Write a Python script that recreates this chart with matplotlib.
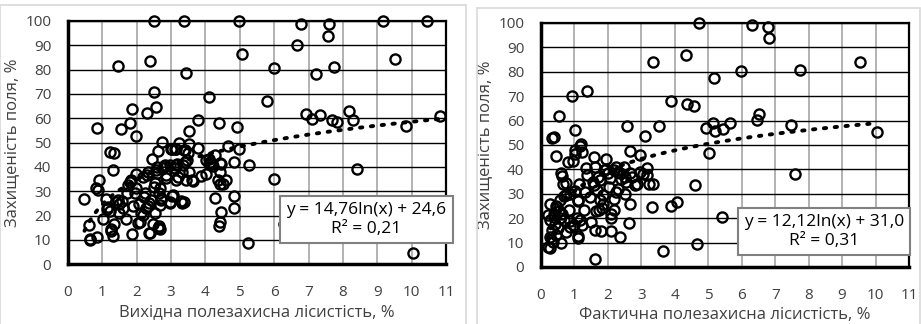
import numpy as np
import matplotlib
matplotlib.use("Agg")
import matplotlib.pyplot as plt
from matplotlib.patches import Rectangle

plt.rcParams['font.family'] = ['Open Sans', 'DejaVu Sans']

# ---------------- data: left chart (initial forest cover) ----------------
left_x = [2.49, 3.38, 4.97, 9.16, 10.44, 6.79, 7.59, 7.56, 6.66, 5.07, 9.53, 2.38, 1.45, 7.75,
          5.99, 3.43, 7.21, 2.50, 4.10, 5.78, 2.56, 1.86, 8.17, 2.29, 6.94, 7.33, 10.83, 7.10,
          3.78, 7.68, 8.30, 7.83, 1.79, 4.39, 9.85, 4.92, 0.85, 1.54, 3.51, 1.97, 2.74, 3.23,
          3.53, 4.66, 3.79, 4.99, 2.63, 1.21, 1.35, 4.28, 2.44, 4.02, 4.82, 4.41, 5.28, 8.41,
          1.30, 6.00, 4.83, 4.28, 0.48, 4.82, 4.44, 6.28, 4.43, 4.38, 0.61, 1.86, 2.36, 0.84,
          1.30, 0.65, 0.63, 5.24, 10.04, 2.66, 2.63, 1.24, 2.48,
          0.82, 0.88, 0.91, 1.02, 1.10, 1.13, 1.21, 1.35, 1.40, 1.45, 1.47, 1.48, 1.57, 1.60,
          1.68, 1.72, 1.74, 1.79, 1.84, 1.89, 1.94, 1.97, 1.99, 2.03, 2.06, 2.13, 2.18, 2.18,
          2.20, 2.25, 2.28, 2.33, 2.35, 2.33, 2.42, 2.49, 2.52, 2.53, 2.55, 2.58, 2.65, 2.67,
          2.69, 2.72, 2.75, 2.78, 2.82, 2.86, 2.96, 2.97, 3.00, 3.15, 3.03, 3.10, 3.15, 3.18,
          3.15, 3.20, 3.29, 3.32, 3.32, 3.36, 3.40, 3.38, 3.44, 3.47, 3.49, 3.53, 3.60, 3.87,
          4.02, 4.09, 4.10, 4.14, 4.22, 4.36, 4.42, 4.41, 4.60, 3.07, 3.37, 2.71, 2.98, 2.10,
          2.39, 2.68, 1.25, 4.18, 4.46, 3.12, 3.41, 3.04, 3.64, 4.50, 2.60, 2.85, 2.30, 1.15]
left_y = [100, 100, 100, 100, 100, 98.6, 98.6, 94.0, 90.1, 86.6, 84.5, 83.7, 81.5, 81.1,
          80.7, 78.7, 78.1, 70.7, 68.7, 67.0, 64.8, 64.0, 63.2, 62.2, 61.8, 61.4, 61.0, 59.6,
          59.2, 59.4, 59.2, 58.4, 58.1, 58.0, 56.9, 56.6, 56.2, 55.8, 54.6, 52.8, 50.3, 49.9,
          49.4, 48.8, 47.9, 47.3, 46.4, 46.1, 45.7, 45.1, 43.1, 42.7, 42.1, 41.6, 40.9, 39.0,
          38.7, 35.2, 28.0, 27.2, 26.7, 23.1, 21.6, 16.4, 17.4, 15.9, 16.3, 12.4, 13.0, 11.2,
          11.5, 10.0, 10.6, 8.6, 4.7, 15.7, 15.0, 13.8, 16.5,
          31.2, 30.5, 34.6, 18.5, 27.0, 22.7, 21.9, 16.4, 25.7, 26.4, 24.8, 20.9, 25.9, 23.0,
          18.6, 29.1, 32.6, 33.9, 34.6, 24.1, 29.4, 31.2, 37.2, 17.1, 24.8, 20.9, 20.2, 36.0,
          27.8, 29.4, 23.0, 24.1, 25.3, 38.0, 26.4, 31.9, 33.5, 20.9, 38.7, 40.1, 29.4, 31.2,
          24.4, 27.1, 39.4, 40.4, 40.8, 36.7, 25.3, 40.8, 47.5, 47.3, 28.2, 39.4, 40.8, 41.4,
          34.6, 36.0, 26.0, 25.3, 38.0, 40.8, 41.9, 46.9, 34.6, 42.8, 45.8, 38.0, 34.6, 36.4,
          37.2, 41.4, 43.1, 42.1, 40.4, 34.6, 33.2, 38.0, 34.6, 28.4, 25.7, 26.4, 25.7, 17.5,
          13.0, 14.6, 14.4, 41.4, 41.4, 47.2, 46.9, 47.2, 34.4, 33.2, 37.5, 35.5, 36.5, 23.5]

# ---------------- data: right chart (actual forest cover) ----------------
right_x = [4.72, 6.31, 6.79, 6.82, 4.34, 3.34, 9.55, 5.98, 7.74, 5.17, 1.37, 0.92, 3.88, 4.35,
           4.58, 0.54, 6.52, 6.46, 5.15, 5.21, 5.45, 5.64, 4.94, 7.47, 10.03, 2.58, 3.52, 3.11,
           1.03, 0.32, 0.38, 5.01, 7.59, 4.59, 3.31, 3.89, 4.08, 5.41, 4.65, 3.64, 1.61, 0.46,
           0.81, 0.95, 1.02, 1.02, 1.17, 1.24, 1.35, 1.37, 1.57, 1.62, 1.93, 2.67, 2.97, 0.60,
           0.63, 0.65, 0.76, 0.75, 0.88, 1.02, 1.15, 1.12, 1.32, 1.30, 1.45, 1.54, 1.57, 1.67,
           1.69, 1.77, 1.77, 1.85, 1.82, 1.63, 1.73, 1.62, 1.79, 1.50, 1.85, 1.87, 1.95, 1.99,
           2.04, 2.09, 2.09, 2.10, 2.17, 2.19, 2.19, 2.23, 2.29, 2.25, 2.35, 2.37, 2.47, 2.52,
           2.50, 2.53, 2.62, 2.66, 2.67, 2.72, 2.80, 2.87, 2.97, 3.04, 3.16, 3.18, 3.24, 3.36,
           0.20, 0.28, 0.38, 0.48, 0.53, 0.58, 0.26, 0.43, 0.51, 0.33, 0.46, 0.28, 0.36, 0.61,
           0.20, 0.28, 0.83, 0.88, 0.98, 0.74, 0.86, 1.09, 1.17, 1.22, 1.11, 1.12, 0.63, 0.68,
           0.40, 0.56, 1.20, 2.05, 2.40, 2.30, 1.10, 0.45, 0.70]
right_y = [100, 99.0, 98.4, 93.8, 87.0, 84.1, 84.2, 80.3, 80.7, 77.4, 72.2, 69.9, 68.2, 66.8,
           65.8, 61.8, 62.7, 60.3, 59.2, 55.9, 56.4, 58.9, 57.1, 58.1, 55.3, 57.8, 57.8, 53.7,
           56.2, 52.7, 53.2, 46.6, 38.2, 33.8, 24.4, 24.9, 26.6, 20.5, 9.5, 6.6, 3.4, 45.5,
           42.9, 43.6, 46.3, 48.0, 49.7, 47.3, 40.4, 37.7, 44.9, 41.1, 44.1, 47.5, 45.8, 38.4,
           37.4, 34.2, 34.5, 29.5, 30.1, 31.1, 34.2, 27.4, 30.8, 23.3, 28.5, 34.9, 33.6, 31.5,
           37.0, 35.6, 27.4, 26.0, 24.0, 23.0, 23.3, 15.1, 14.8, 18.5, 29.5, 39.7, 40.0, 38.6,
           32.9, 19.9, 21.9, 14.8, 27.8, 23.3, 39.7, 41.1, 38.9, 30.8, 12.1, 38.4, 41.1, 37.0,
           30.1, 34.9, 17.9, 25.8, 38.4, 37.0, 33.6, 34.2, 39.0, 38.1, 40.4, 37.7, 34.0, 34.2,
           21.5, 25.8, 21.9, 24.7, 23.0, 19.9, 19.2, 17.8, 15.8, 15.1, 13.0, 12.3, 10.3, 10.0,
           8.2, 7.9, 23.3, 18.9, 17.1, 14.4, 16.2, 19.9, 19.2, 17.4, 12.6, 11.8, 21.9, 19.2,
           20.5, 27.4, 50.5, 36.5, 36.0, 32.0, 27.0, 25.0, 29.0]

# trendline coefficients and labels (as shown on the chart)
left_coef = (14.76, 24.6)
right_coef = (12.12, 31.0)
left_eq = "y = 14,76ln(x) + 24,6\nR² = 0,21"
right_eq = "y = 12,12ln(x) + 31,0\nR² = 0,31"
left_xlabel = "Вихідна полезахисна лісистість, %"
right_xlabel = "Фактична полезахисна лісистість, %"
ylabel = "Захищеність поля, %"
xticks = list(range(0, 12))
yticks = list(range(0, 101, 10))

W, H = 921, 324
fig = plt.figure(figsize=(W / 100, H / 100), dpi=100)

# panel borders (light gray chart-area frames)
fig.patches.append(Rectangle((0 / W, -0.1), 466 / W, 1.1 - 5 / H, transform=fig.transFigure,
                             fill=False, edgecolor='#d9d9d9', lw=1.2))
fig.patches.append(Rectangle((477 / W, -0.1), 443 / W, 1.1 - 8 / H, transform=fig.transFigure,
                             fill=False, edgecolor='#d9d9d9', lw=1.2))

txtcol = '#404040'


def panel(rect, xs, ys, coef, eq, xlabel, boxpos):
    ax = fig.add_axes(rect)
    ax.set_xlim(0, 11)
    ax.set_ylim(0, 100)
    ax.set_xticks(xticks)
    ax.set_yticks(yticks)
    ax.tick_params(length=0, labelsize=11, colors=txtcol)
    ax.tick_params(axis='x', pad=15)
    ax.tick_params(axis='y', pad=12)
    ax.set_axisbelow(True)
    ax.xaxis.grid(True, color='#a6a6a6', lw=1.2)
    ax.yaxis.grid(True, color='black', lw=1.0)
    for s in ('left', 'bottom'):
        ax.spines[s].set_linewidth(2.5)
        ax.spines[s].set_color('black')
    for s in ('top', 'right'):
        ax.spines[s].set_linewidth(1.6)
        ax.spines[s].set_color('black')
    ax.plot(xs, ys, linestyle='none', marker='o', markersize=7.3, markerfacecolor='none',
            markeredgecolor='black', markeredgewidth=1.7, clip_on=False, zorder=3)
    a, b = coef
    tx = np.linspace(min(xs), max(xs), 200)
    ax.plot(tx, a * np.log(tx) + b, color='black', linestyle=(0, (0.6, 2.2)), lw=2.8,
            dash_capstyle='round', zorder=4)
    ax.set_xlabel(xlabel, fontsize=12, color=txtcol, labelpad=3)
    ax.set_ylabel(ylabel, fontsize=12, color=txtcol, labelpad=4)
    ax.text(boxpos[0], boxpos[1], eq, transform=ax.transAxes, ha='center', va='center',
            fontsize=12.5, color='black', linespacing=1.25, zorder=6,
            bbox=dict(boxstyle='square,pad=0.35', facecolor='white', edgecolor='#808080', lw=1.5))
    return ax


# left axes: x 68..446 px, y 21..264 px
panel([68 / W, 1 - 264.3 / H, 378 / W, 243.3 / H], left_x, left_y, left_coef, left_eq,
      left_xlabel, ((366.5 - 68) / 378, (264.3 - 219.5) / 243.3))
# right axes: x 541..909 px, y 23..267 px
panel([541 / W, 1 - 267 / H, 368 / W, 244 / H], right_x, right_y, right_coef, right_eq,
      right_xlabel, ((824 - 541) / 368, (267 - 231.5) / 244))

fig.savefig('out.png', dpi=100)
